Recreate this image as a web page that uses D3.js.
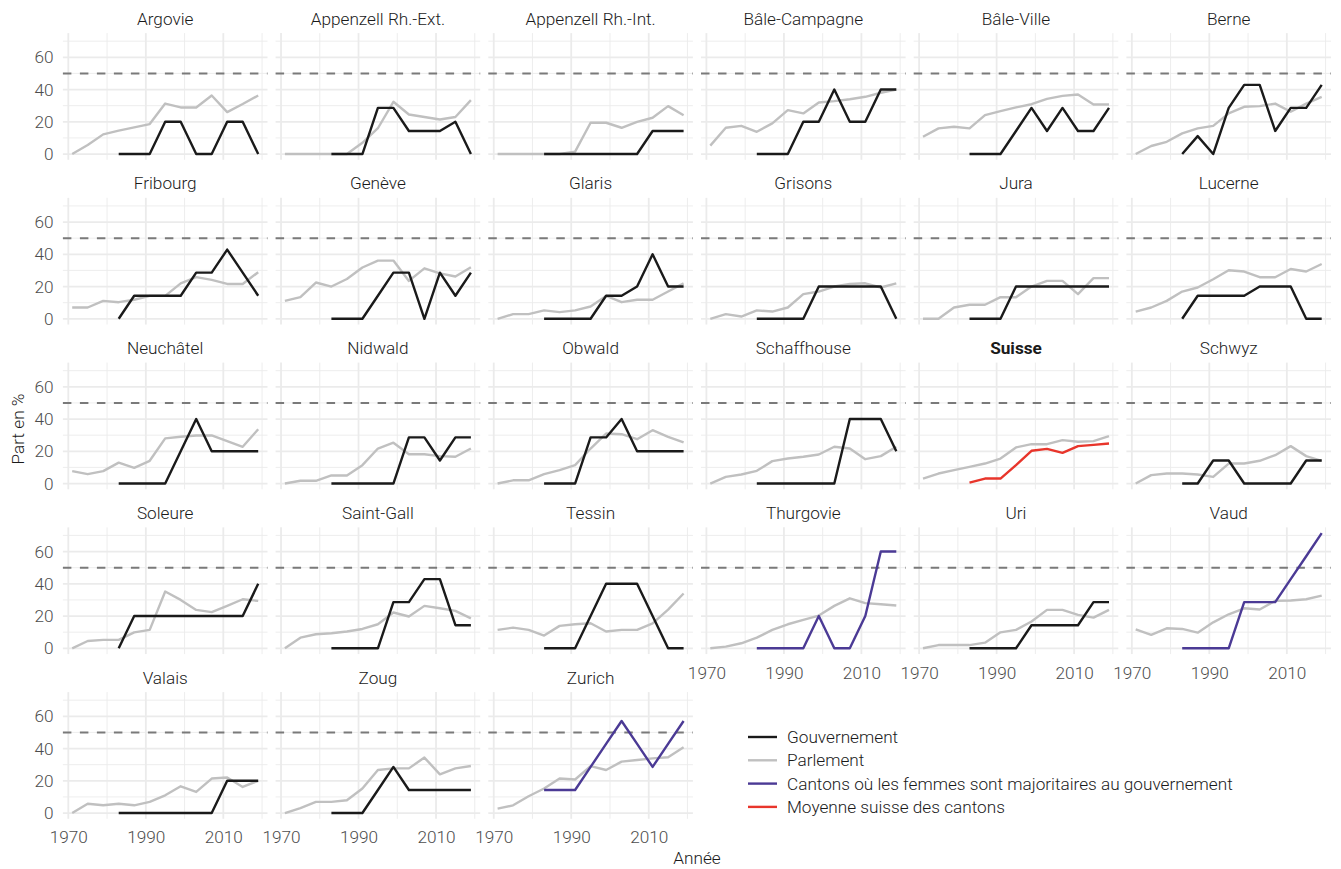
<!DOCTYPE html>
<html lang="fr">
<head>
<meta charset="utf-8">
<script src="https://cdn.jsdelivr.net/npm/d3@7"></script>
<style>
  html, body { margin: 0; padding: 0; background: #fff; }
  svg { display: block; font-family: Roboto, "Noto Sans", sans-serif; font-weight: 300; }
</style>
</head>
<body>
<svg id="chart" width="1341" height="869"></svg>
<script>
// Women's share (%) in cantonal parliaments and governments.
const panels = [
  "Argovie", "Appenzell Rh.-Ext.", "Appenzell Rh.-Int.", "Bâle-Campagne", "Bâle-Ville", "Berne",
  "Fribourg", "Genève", "Glaris", "Grisons", "Jura", "Lucerne",
  "Neuchâtel", "Nidwald", "Obwald", "Schaffhouse", "Suisse", "Schwyz",
  "Soleure", "Saint-Gall", "Tessin", "Thurgovie", "Uri", "Vaud",
  "Valais", "Zoug", "Zurich"
];

const parlYears = [1971, 1975, 1979, 1983, 1987, 1991, 1995, 1999, 2003, 2007, 2011, 2015, 2019];
const govYears  = [1983, 1987, 1991, 1995, 1999, 2003, 2007, 2011, 2015, 2019];

// Parliament share, one row per panel (same order as `panels`)
const parlement = [
  [0, 5.6, 12.2, 14.5, 16.5, 18.6, 31.3, 28.9, 28.9, 36.3, 26, 31, 36.3],
  [0, 0, 0, 0, 0, 7, 16, 32.4, 24.5, 23, 21.4, 23, 33.4],
  [0, 0, 0, 0, 0, 1.5, 19.4, 19.4, 16.3, 20, 22.5, 29.7, 24],
  [5.2, 16.3, 17.5, 13.8, 19, 27.2, 25.2, 32, 32.8, 34, 35.5, 38, 40],
  [10.7, 15.9, 16.9, 15.9, 24.1, 26.6, 28.9, 30.9, 34.2, 36.1, 36.9, 30.7, 30.7],
  [0, 5, 7.6, 12.8, 15.9, 17.5, 25.2, 29.3, 29.7, 31.3, 26.2, 31.3, 35.5],
  [7, 7, 11.1, 10.3, 11.8, 14.2, 14.2, 22, 25.8, 24.1, 21.6, 21.6, 28.9],
  [11.1, 13.4, 22.5, 20, 24.7, 31.8, 36.1, 36.1, 23.5, 31.3, 28.2, 26.2, 32],
  [0, 2.9, 2.9, 5.2, 4.1, 5.2, 7.6, 14.2, 10.3, 11.8, 11.8, 16.9, 22],
  [0, 2.9, 1.4, 5.2, 4.5, 7, 15.3, 16.9, 20, 21.6, 22, 19.4, 22],
  [0, 0, 7, 8.7, 8.7, 13.4, 13.4, 20, 23.5, 23.5, 15.3, 25.2, 25.2],
  [4.5, 7, 11.1, 16.9, 19.4, 24.5, 30.1, 29.3, 25.8, 25.8, 30.9, 29.3, 34],
  [7.7, 5.8, 7.7, 13, 9.7, 14.1, 28, 29, 29.8, 29.8, 26.3, 22.8, 33.7],
  [0, 1.7, 1.7, 5, 5, 11.4, 21.7, 25.3, 18.2, 18.2, 17, 16.6, 21.7],
  [0, 2, 2, 5.8, 8.3, 11.4, 21.7, 31, 30.6, 27.5, 33.1, 29, 25.5],
  [0, 4.1, 5.6, 7.9, 13.9, 15.5, 16.6, 18, 22.8, 21.7, 15.1, 17, 22.8],
  [3.1, 6.2, 8.3, 10.3, 12.4, 15.5, 22.4, 24.4, 24.4, 26.9, 25.9, 26.3, 29.4],
  [0, 5.2, 6.2, 6.2, 5.6, 4.1, 12.4, 12.4, 14.1, 17.6, 23.2, 17, 14.1],
  [0, 4.5, 5.2, 5.2, 9.9, 11.4, 35.2, 30, 23.8, 22.4, 26.3, 30.4, 29.4],
  [0, 6.6, 8.7, 9.3, 10.4, 12, 14.9, 22.2, 19.7, 26.3, 24.8, 23.2, 18.6],
  [11.4, 12.8, 11.4, 7.9, 13.9, 14.9, 15.5, 10.4, 11.4, 11.4, 15.5, 24, 34],
  [0, 1, 3.1, 6.6, 11.4, 14.9, 17.6, 20.3, 26.3, 31, 28, 27.3, 26.5],
  [0, 2, 2, 2, 3.5, 9.9, 11.4, 16.6, 23.8, 23.8, 20.7, 19, 23.8],
  [11.8, 8.3, 12.4, 12, 9.7, 16.1, 21.1, 24.8, 24.1, 29.4, 29.6, 30.4, 32.7],
  [0, 5.8, 4.8, 5.8, 4.8, 6.9, 11, 16.6, 13.1, 21.4, 22, 16.2, 20],
  [0, 3.1, 6.9, 6.9, 7.9, 15.2, 26.7, 27.7, 27.7, 34.4, 24, 27.7, 29.2],
  [2.7, 4.8, 10.4, 15.2, 21.4, 20.8, 29.1, 26.7, 31.9, 32.9, 33.9, 34.6, 40.8]
];

// Government share, one row per panel (same order as `panels`)
const gouvernement = [
  [0, 0, 0, 20, 20, 0, 0, 20, 20, 0],
  [0, 0, 0, 28.6, 28.6, 14.3, 14.3, 14.3, 20, 0],
  [0, 0, 0, 0, 0, 0, 0, 14.3, 14.3, 14.3],
  [0, 0, 0, 20, 20, 40, 20, 20, 40, 40],
  [0, 0, 0, 14.3, 28.6, 14.3, 28.6, 14.3, 14.3, 28.6],
  [0, 11.1, 0, 28.6, 42.9, 42.9, 14.3, 28.6, 28.6, 42.9],
  [0, 14.3, 14.3, 14.3, 14.3, 28.6, 28.6, 42.9, 28.6, 14.3],
  [0, 0, 0, 14.3, 28.6, 28.6, 0, 28.6, 14.3, 28.6],
  [0, 0, 0, 0, 14.3, 14.3, 20, 40, 20, 20],
  [0, 0, 0, 0, 20, 20, 20, 20, 20, 0],
  [0, 0, 0, 20, 20, 20, 20, 20, 20, 20],
  [0, 14.3, 14.3, 14.3, 14.3, 20, 20, 20, 0, 0],
  [0, 0, 0, 0, 20, 40, 20, 20, 20, 20],
  [0, 0, 0, 0, 0, 28.6, 28.6, 14.3, 28.6, 28.6],
  [0, 0, 0, 28.6, 28.6, 40, 20, 20, 20, 20],
  [0, 0, 0, 0, 0, 0, 40, 40, 40, 20],
  [0.6, 3.1, 3.1, 11.4, 20.3, 21.5, 19, 23.2, 24, 24.8],
  [0, 0, 14.3, 14.3, 0, 0, 0, 0, 14.3, 14.3],
  [0, 20, 20, 20, 20, 20, 20, 20, 20, 40],
  [0, 0, 0, 0, 28.6, 28.6, 42.9, 42.9, 14.3, 14.3],
  [0, 0, 0, 20, 40, 40, 40, 20, 0, 0],
  [0, 0, 0, 0, 20, 0, 0, 20, 60, 60],
  [0, 0, 0, 0, 14.3, 14.3, 14.3, 14.3, 28.6, 28.6],
  [0, 0, 0, 0, 28.6, 28.6, 28.6, 42.9, 57.1, 71.4],
  [0, 0, 0, 0, 0, 0, 0, 20, 20, 20],
  [0, 0, 0, 14.3, 28.6, 14.3, 14.3, 14.3, 14.3, 14.3],
  [14.3, 14.3, 14.3, 28.6, 42.9, 57.1, 42.9, 28.6, 42.9, 57.1]
];

// Cantons whose government reached a female majority
const majoritaires = ["Thurgovie", "Vaud", "Zurich"];
const moyenne = "Suisse";

const legendLabels = [
  "Gouvernement",
  "Parlement",
  "Cantons où les femmes sont majoritaires au gouvernement",
  "Moyenne suisse des cantons"
];

const xMajor = [1970, 1990, 2010], xMinor = [1980, 2000, 2020];
const yMajor = [0, 20, 40, 60],    yMinor = [10, 30, 50, 70];
const seuil = 50;

// ---- layout ----
const colors = {
  gouv: "#1a1a1a", parl: "#c0c0c0", major: "#4b3a95", moy: "#e8352b",
  grid: "#ebebeb", dash: "#7a7a7a", text: "#1a1a1a", tick: "#4d4d4d"
};
const fontSize = 17.2;
const nCols = 6;
const panelW = 204.6, panelH = 126.7;
const colStep = 212.7, rowStep = 164.75;
const left0 = 62.9, top0 = 33.1;

const x = d3.scaleLinear().domain([1968.6, 2021.4]).range([0, panelW]);
const y = d3.scaleLinear().domain([-3.57, 75]).range([panelH, 0]);

const svg = d3.select("#chart");
const line = d3.line().x(d => x(d[0])).y(d => y(d[1]));

const nRows = Math.ceil(panels.length / nCols);

panels.forEach((name, i) => {
  const c = i % nCols, r = Math.floor(i / nCols);
  const g = svg.append("g")
    .attr("transform", `translate(${left0 + c * colStep},${top0 + r * rowStep})`);

  // grid
  g.selectAll(".gx-min").data(xMinor).join("line")
    .attr("x1", d => x(d)).attr("x2", d => x(d)).attr("y1", 0).attr("y2", panelH)
    .attr("stroke", colors.grid).attr("stroke-width", 0.9);
  g.selectAll(".gy-min").data(yMinor).join("line")
    .attr("y1", d => y(d)).attr("y2", d => y(d)).attr("x1", 0).attr("x2", panelW)
    .attr("stroke", colors.grid).attr("stroke-width", 0.9);
  g.selectAll(".gx-maj").data(xMajor).join("line")
    .attr("x1", d => x(d)).attr("x2", d => x(d)).attr("y1", 0).attr("y2", panelH)
    .attr("stroke", colors.grid).attr("stroke-width", 1.8);
  g.selectAll(".gy-maj").data(yMajor).join("line")
    .attr("y1", d => y(d)).attr("y2", d => y(d)).attr("x1", 0).attr("x2", panelW)
    .attr("stroke", colors.grid).attr("stroke-width", 1.8);

  // 50 % reference
  g.append("line")
    .attr("x1", 0).attr("x2", panelW).attr("y1", y(seuil)).attr("y2", y(seuil))
    .attr("stroke", colors.dash).attr("stroke-width", 2).attr("stroke-dasharray", "8.5,8.5");

  const gColor = name === moyenne ? colors.moy
    : majoritaires.includes(name) ? colors.major : colors.gouv;
  const gov = govYears.map((yr, k) => [yr, gouvernement[i][k]]);
  const parl = parlYears.map((yr, k) => [yr, parlement[i][k]]);

  g.append("path").datum(parl).attr("d", line)
    .attr("fill", "none").attr("stroke", colors.parl).attr("stroke-width", 2.4)
    .attr("stroke-linejoin", "round");
  g.append("path").datum(gov).attr("d", line)
    .attr("fill", "none").attr("stroke", gColor).attr("stroke-width", 2.4)
    .attr("stroke-linejoin", "round");

  // strip title
  g.append("text")
    .attr("x", panelW / 2).attr("y", -8.5)
    .attr("text-anchor", "middle")
    .attr("font-size", fontSize)
    .attr("font-weight", name === moyenne ? 700 : 300)
    .attr("fill", colors.text)
    .text(name);

  // y axis on first column
  if (c === 0) {
    const ay = g.append("g")
      .call(d3.axisLeft(y).tickValues(yMajor).tickSize(0).tickPadding(9.4));
    ay.select(".domain").remove();
    ay.selectAll("text").attr("font-size", fontSize).attr("fill", colors.tick)
      .attr("font-family", "Roboto, sans-serif").attr("font-weight", 300);
  }
  // x axis where no panel sits underneath
  if (i + nCols >= panels.length) {
    const ax = g.append("g").attr("transform", `translate(0,${panelH})`)
      .call(d3.axisBottom(x).tickValues(xMajor).tickFormat(d3.format("d")).tickSize(0).tickPadding(12.3));
    ax.select(".domain").remove();
    ax.selectAll("text").attr("font-size", fontSize).attr("fill", colors.tick)
      .attr("font-family", "Roboto, sans-serif").attr("font-weight", 300);
  }
});

// axis titles
const plotLeft = left0, plotRight = left0 + (nCols - 1) * colStep + panelW;
const plotTop = top0, plotBottom = top0 + (nRows - 1) * rowStep + panelH;
svg.append("text")
  .attr("x", (plotLeft + plotRight) / 2).attr("y", 864)
  .attr("text-anchor", "middle").attr("font-size", fontSize).attr("fill", colors.text)
  .text("Année");
svg.append("text")
  .attr("transform", `translate(23.5,${(plotTop + plotBottom) / 2 + 3}) rotate(-90)`)
  .attr("text-anchor", "middle").attr("font-size", fontSize).attr("fill", colors.text)
  .text("Part en %");

// legend
const legendColors = [colors.gouv, colors.parl, colors.major, colors.moy];
const lg = svg.append("g").attr("transform", "translate(748,737)");
legendLabels.forEach((lab, k) => {
  const row = lg.append("g").attr("transform", `translate(0,${k * 23.3})`);
  row.append("line").attr("x1", 0).attr("x2", 29).attr("y1", 0).attr("y2", 0)
    .attr("stroke", legendColors[k]).attr("stroke-width", 2.4);
  row.append("text").attr("x", 39).attr("y", 0).attr("dy", "0.35em")
    .attr("font-size", fontSize).attr("fill", colors.text).text(lab);
});
</script>
</body>
</html>
